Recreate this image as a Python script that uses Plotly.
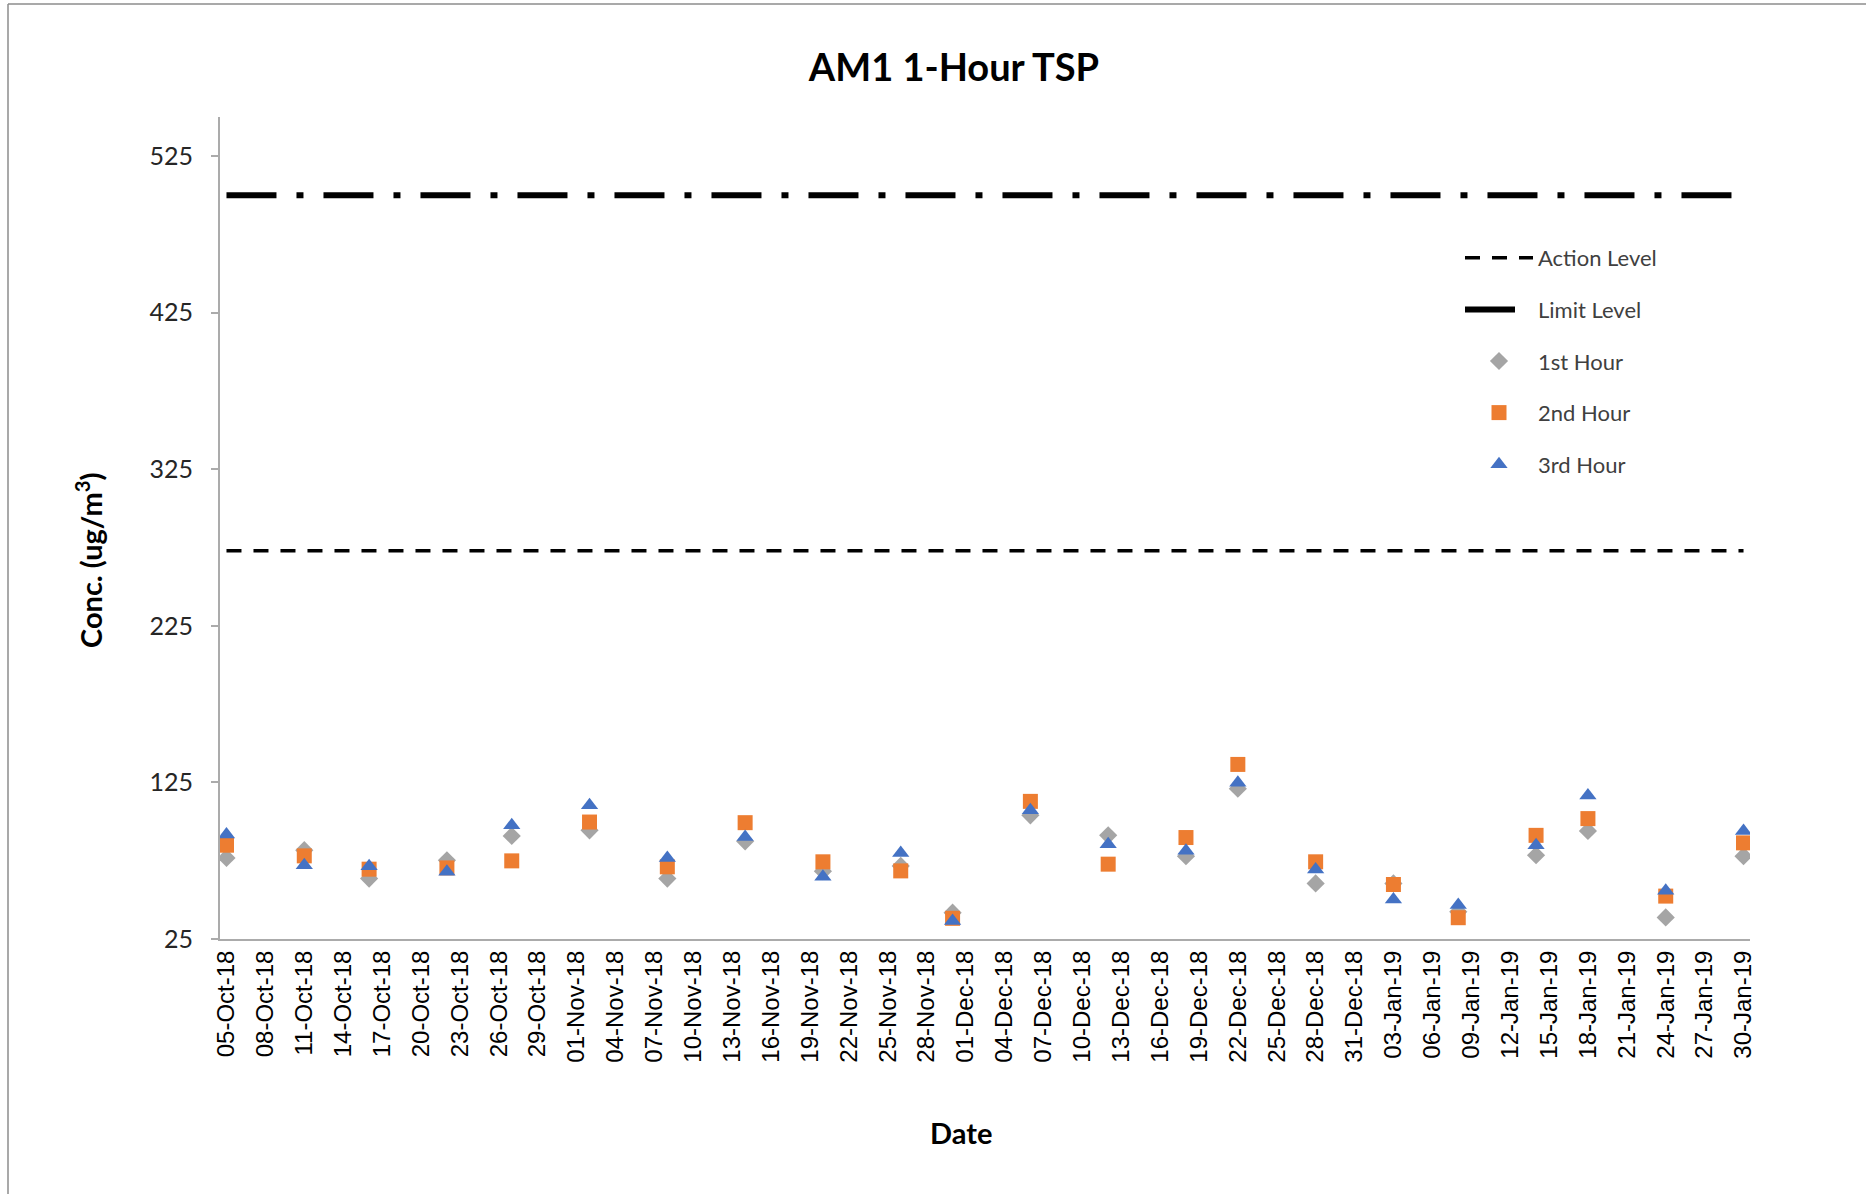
import plotly.graph_objects as go

# ---- data ----
dates = ['2018-10-05', '2018-10-11', '2018-10-16', '2018-10-22', '2018-10-27',
         '2018-11-02', '2018-11-08', '2018-11-14', '2018-11-20', '2018-11-26',
         '2018-11-30', '2018-12-06', '2018-12-12', '2018-12-18', '2018-12-22',
         '2018-12-28', '2019-01-03', '2019-01-08', '2019-01-14', '2019-01-18',
         '2019-01-24', '2019-01-30']
hour1 = [76.8, 81.7, 63.6, 75.3, 90.8, 94.4, 63.6, 87.4, 68.3, 71.7, 41.8,
         104.0, 91.2, 77.9, 121.0, 60.5, 60.5, 42.4, 78.5, 94.0, 38.8, 77.9]
hour2 = [84.9, 78.1, 69.6, 70.4, 74.9, 99.7, 71.1, 99.3, 74.3, 68.5, 38.2,
         112.9, 72.8, 89.8, 136.5, 74.3, 59.8, 38.6, 91.2, 101.9, 52.4, 86.4]
hour3 = [91.7, 72.1, 71.5, 67.9, 97.6, 110.4, 76.8, 90.2, 64.7, 80.0, 36.5,
         107.2, 85.5, 81.3, 124.8, 69.4, 50.3, 46.7, 84.9, 116.7, 55.8, 94.0]
action_level = 273
limit_level = 500

W, H = 1866, 1194
L, R, T, B = 220, 116, 117, 255
PW, PH = W - L - R, H - T - B


def px_x(p):
    return (p - L) / PW


def px_y(p):
    return (H - B - p) / PH


CAL = "Lato, 'Open Sans', sans-serif"
ARI = "'Liberation Sans', Arial, sans-serif"

fig = go.Figure()
fig.add_trace(go.Scatter(
    x=dates, y=[action_level] * len(dates), mode='lines', name='Action Level',
    line=dict(color='black', width=3.5, dash='15px,12px'),
    legendgroup='a', hoverinfo='skip'))
fig.add_trace(go.Scatter(
    x=dates, y=[limit_level] * len(dates), mode='lines', name='Limit Level',
    line=dict(color='black', width=6, dash='50px,20px,7px,20px'),
    legendgroup='b', hoverinfo='skip'))
fig.add_trace(go.Scatter(
    x=dates, y=hour1, mode='markers', name='1st Hour',
    marker=dict(symbol='diamond', size=14, color='#A5A5A5'), legendgroup='c'))
fig.add_trace(go.Scatter(
    x=dates, y=hour2, mode='markers', name='2nd Hour',
    marker=dict(symbol='square', size=15, color='#ED7D31'), legendgroup='d'))
fig.add_trace(go.Scatter(
    x=dates, y=hour3, mode='markers', name='3rd Hour',
    marker=dict(symbol='triangle-up', size=15, color='#4472C4'), legendgroup='e'))

# chart-area border (only left and top edges visible in the reference)
fig.add_shape(type='line', xref='paper', yref='paper', x0=px_x(8), x1=px_x(W),
              y0=px_y(4), y1=px_y(4), line=dict(color='#8C8C8C', width=1.5))
fig.add_shape(type='line', xref='paper', yref='paper', x0=px_x(8), x1=px_x(8),
              y0=px_y(H), y1=px_y(4), line=dict(color='#8C8C8C', width=1.5))

# axis titles
fig.add_annotation(text='<b>Date</b>', xref='paper', yref='paper',
                   x=px_x(961), y=px_y(1132), xanchor='center', yanchor='middle',
                   showarrow=False, font=dict(family=CAL, size=29, color='black'))
fig.add_annotation(text='<b>Conc. (ug/m<sup>3</sup>)</b>', xref='paper', yref='paper',
                   x=px_x(89), y=px_y(560), xanchor='center', yanchor='middle',
                   textangle=-90, showarrow=False,
                   font=dict(family=CAL, size=29, color='black'))

fig.update_layout(
    width=W, height=H,
    margin=dict(l=L, r=R, t=T, b=B, autoexpand=False),
    paper_bgcolor='white', plot_bgcolor='white',
    title=dict(text='<b>AM1 1-Hour TSP</b>', x=954 / W, xanchor='center',
               y=1 - 68 / H, yanchor='middle', yref='container',
               font=dict(family=CAL, size=38, color='black')),
    showlegend=True,
    legend=dict(xref='paper', yref='paper', x=px_x(1460), y=px_y(237),
                xanchor='left', yanchor='top', itemwidth=68, tracegroupgap=20,
                bgcolor='rgba(0,0,0,0)', font=dict(family=CAL, size=22, color='#404040')),
    xaxis=dict(
        type='date', automargin=False,
        range=['2018-10-04 12:00', '2019-01-30 12:00'],
        tick0='2018-10-05', dtick=3 * 86400000, tickformat='%d-%b-%y',
        tickangle=-90, ticks='', showgrid=False, zeroline=False,
        showline=True, linecolor='#ABABAB', linewidth=2,
        tickfont=dict(family=ARI, size=24, color='black'),
    ),
    yaxis=dict(
        range=[25, 550], tick0=25, dtick=100, automargin=False,
        ticks='outside', ticklen=7, tickcolor='#ABABAB', tickwidth=1.5,
        ticklabelstandoff=13,
        showgrid=False, zeroline=False,
        showline=True, linecolor='#ABABAB', linewidth=2,
        tickfont=dict(family=CAL, size=25, color='#262626'),
    ),
)

fig.write_html('out.html', config={'displayModeBar': False},
               post_script="document.body.style.margin='0px';")
